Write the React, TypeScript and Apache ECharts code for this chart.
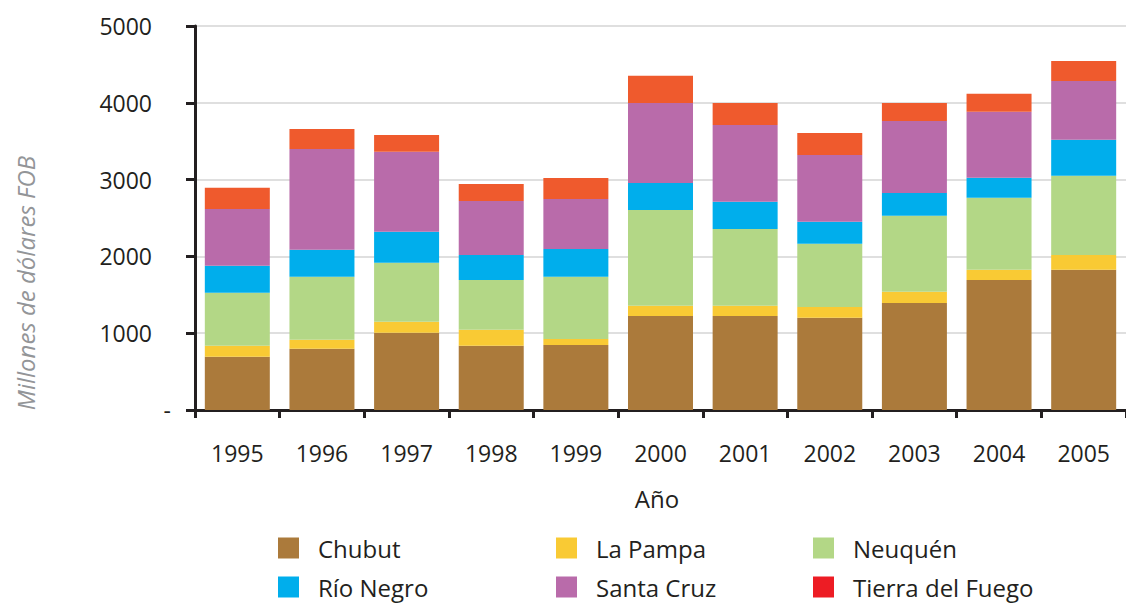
import React, { useEffect, useRef } from "react";
import * as echarts from "echarts";

const years = ["1995", "1996", "1997", "1998", "1999", "2000", "2001", "2002", "2003", "2004", "2005"];
const chubut = [694, 799, 1007, 838, 846, 1224, 1224, 1202, 1393, 1693, 1827];
const laPampa = [144, 117, 143, 208, 78, 134, 134, 139, 148, 134, 191];
const neuquen = [690, 820, 768, 647, 812, 1246, 999, 825, 989, 938, 1033];
const rioNegro = [351, 352, 404, 325, 360, 352, 355, 286, 295, 260, 469];
const santaCruz = [738, 1310, 1042, 703, 651, 1041, 999, 868, 938, 859, 764];
const tierraDelFuego = [278, 261, 217, 222, 274, 356, 286, 287, 234, 235, 260];

const seriesNames = ["Chubut", "La Pampa", "Neuquén", "Río Negro", "Santa Cruz", "Tierra del Fuego"];
const seriesData = [chubut, laPampa, neuquen, rioNegro, santaCruz, tierraDelFuego];
const barColors = ["#AB7A3B", "#F9CA34", "#B3D786", "#00AEEC", "#B96BAA", "#EF5A2D"];
const legendColors = ["#AB7A3B", "#F9CA34", "#B3D786", "#00AEEC", "#B96BAA", "#ED1C24"];
const yTicks = [0, 1000, 2000, 3000, 4000, 5000];

const FONT = "'Open Sans', sans-serif";
const DARK = "#231f20";

export default function App() {
  const ref = useRef<HTMLDivElement>(null);
  useEffect(() => {
    if (!ref.current) return;
    const chart = echarts.init(ref.current, null, { renderer: "svg" });
    const legendPos = [
      [278, 536],
      [556, 536],
      [813, 536],
      [278, 575],
      [556, 575],
      [813, 575],
    ];
    chart.setOption({
      animation: false,
      textStyle: { fontFamily: FONT },
      grid: { left: 195, right: -14, top: 26, bottom: 194, containLabel: false },
      xAxis: {
        type: "category",
        data: years,
        axisLine: { show: true, lineStyle: { color: DARK, width: 3 } },
        axisTick: { show: true, length: 8, interval: 0, lineStyle: { color: DARK, width: 3 } },
        axisLabel: { interval: 0, margin: 31, fontSize: 23, color: DARK, fontFamily: FONT },
        splitLine: { show: false },
      },
      yAxis: {
        type: "value",
        min: yTicks[0],
        max: yTicks[yTicks.length - 1],
        interval: 1000,
        axisLine: { show: true, lineStyle: { color: DARK, width: 3 } },
        axisTick: { show: true, length: 9, lineStyle: { color: DARK, width: 3 } },
        splitLine: { show: true, lineStyle: { color: "#d4d4d4", width: 1.5 } },
        axisLabel: {
          margin: 24,
          fontSize: 23,
          color: DARK,
          fontFamily: FONT,
          formatter: (v: number) => (v === 0 ? "-" : "{n|" + v + "}"),
          rich: {
            n: { fontSize: 23, color: DARK, fontFamily: FONT, padding: [0, 19, 0, 0] },
          },
        },
      },
      legend: seriesNames.map((name, i) => ({
        show: true,
        left: legendPos[i][0],
        top: legendPos[i][1],
        padding: 0,
        itemWidth: 21,
        itemHeight: 21,
        icon: "rect",
        textStyle: { fontSize: 24, color: DARK, fontFamily: FONT, padding: [0, 0, 0, 14] },
        data: [{ name, itemStyle: { color: legendColors[i] } }],
        selectedMode: false,
      })),
      graphic: [
        {
          type: "text",
          x: 25,
          y: 283,
          rotation: Math.PI / 2,
          style: {
            text: "Millones de dólares FOB",
            fontSize: 24,
            fontStyle: "italic",
            fontFamily: FONT,
            fill: "#939598",
            textAlign: "center",
            textVerticalAlign: "middle",
          },
        },
        {
          type: "text",
          x: 657,
          y: 498,
          style: {
            text: "Año",
            fontSize: 24,
            fontFamily: FONT,
            fill: DARK,
            textAlign: "center",
            textVerticalAlign: "middle",
          },
        },
      ],
      series: seriesNames.map((name, i) => ({
        name,
        type: "bar",
        stack: "total",
        barWidth: 65,
        data: seriesData[i],
        itemStyle: { color: barColors[i] },
      })),
    });
    return () => chart.dispose();
  }, []);
  return (
    <div
      ref={ref}
      style={{ position: "absolute", left: 0, top: 0, width: 1126, height: 604 }}
    />
  );
}
